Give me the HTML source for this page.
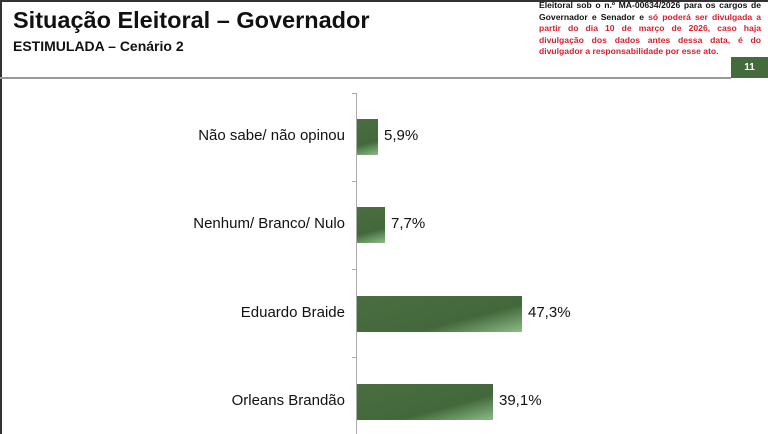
<!DOCTYPE html>
<html><head><meta charset="utf-8"><style>
body{margin:0;width:768px;height:434px;background:#fff;position:relative;overflow:hidden;font-family:"Liberation Sans",Arial,sans-serif}
.a{position:absolute}
.lab{position:absolute;right:423px;font-size:15px;color:#111;text-align:right;white-space:nowrap}
.val{position:absolute;font-size:15px;color:#111}
.bar{position:absolute;left:357px;height:36px;background:linear-gradient(165deg,#4a6e40 0%,#43683b 65%,#8cbc86 100%)}
</style></head><body>
<div class="a" style="left:0;top:0;width:768px;height:2px;background:#333"></div>
<div class="a" style="left:0;top:0;width:2px;height:434px;background:#333"></div>
<div class="a" style="left:13px;top:7px;font-size:23.5px;font-weight:bold;color:#111">Situação Eleitoral – Governador</div>
<div class="a" style="left:13px;top:38px;font-size:14px;font-weight:bold;color:#111">ESTIMULADA – Cenário 2</div>
<div class="a" style="left:539px;top:0px;width:222px;font-size:8.6px;font-weight:bold;line-height:11.5px;text-align:justify;color:#111">Eleitoral sob o n.º MA-00634/2026 para os cargos de Governador e Senador e <span style="color:#d62030">só poderá ser divulgada a partir do dia 10 de março de 2026, caso haja divulgação dos dados antes dessa data, é do divulgador a responsabilidade por esse ato.</span></div>
<div class="a" style="left:0;top:77px;width:731px;height:2px;background:#999"></div>
<div class="a" style="left:731px;top:57px;width:37px;height:21px;background:#456b3c;color:#fff;font-size:10px;font-weight:bold;text-align:center;line-height:21px">11</div>
<div class="a" style="left:356px;top:93px;width:1px;height:341px;background:#aaa"></div>
<div class="a" style="left:352px;top:93px;width:5px;height:1px;background:#aaa"></div>
<div class="a" style="left:352px;top:181px;width:5px;height:1px;background:#aaa"></div>
<div class="a" style="left:352px;top:269px;width:5px;height:1px;background:#aaa"></div>
<div class="a" style="left:352px;top:357px;width:5px;height:1px;background:#aaa"></div>
<div class="bar" style="top:119px;width:21px"></div>
<div class="bar" style="top:207px;width:28px"></div>
<div class="bar" style="top:296px;width:165px"></div>
<div class="bar" style="top:384px;width:136px"></div>
<div class="lab" style="top:127px">Não sabe/ não opinou</div>
<div class="lab" style="top:215px">Nenhum/ Branco/ Nulo</div>
<div class="lab" style="top:304px">Eduardo Braide</div>
<div class="lab" style="top:392px">Orleans Brandão</div>
<div class="val" style="left:384px;top:127px">5,9%</div>
<div class="val" style="left:391px;top:215px">7,7%</div>
<div class="val" style="left:528px;top:304px">47,3%</div>
<div class="val" style="left:499px;top:392px">39,1%</div>
</body></html>
